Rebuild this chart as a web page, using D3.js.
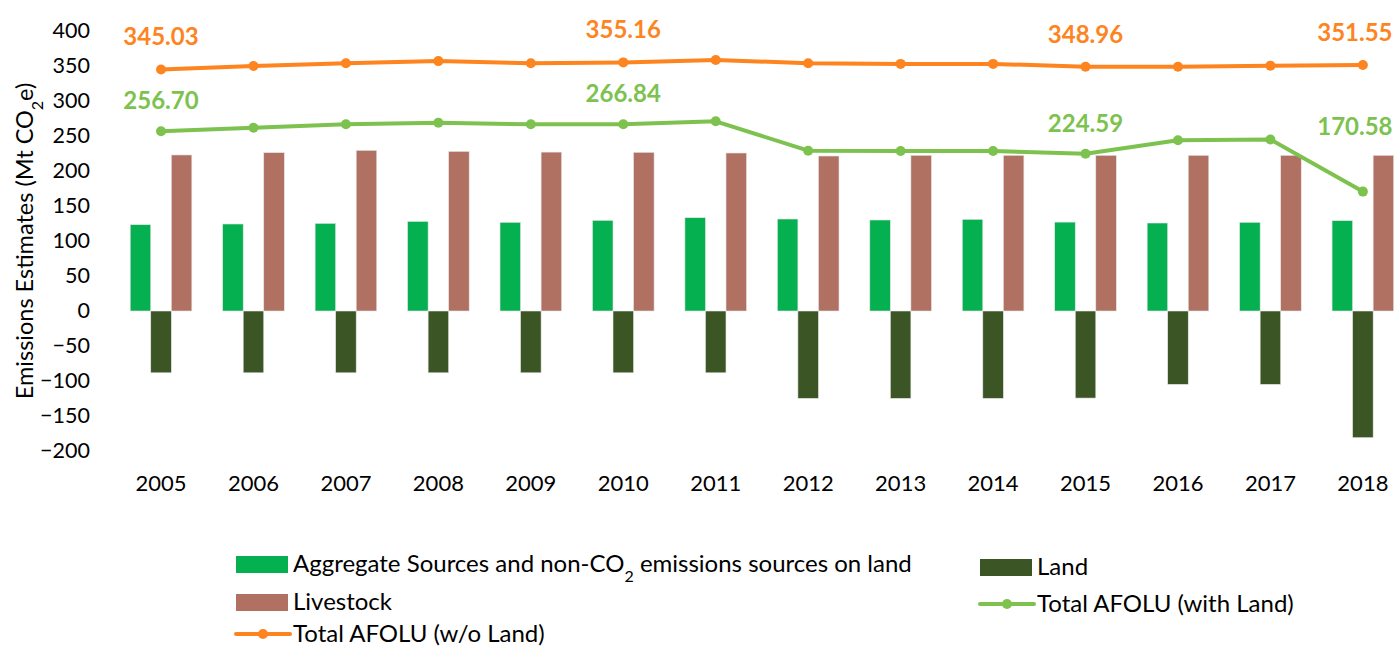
<!DOCTYPE html>
<meta charset="utf-8">
<script src="https://d3js.org/d3.v7.min.js"></script>
<style>
  body { margin: 0; background: #fff; }
  text { font-family: Lato, "Open Sans", sans-serif; }
</style>
<div id="my_dataviz"></div>
<script>
  // data
  var years = ["2005", "2006", "2007", "2008", "2009", "2010", "2011", "2012", "2013", "2014", "2015", "2016", "2017", "2018"];
  var aggregate = [123.3, 124.3, 125.2, 128.0, 126.7, 129.5, 133.3, 131.4, 130.0, 131.0, 127.0, 125.7, 126.7, 129.0];
  var land = [-88.3, -88.3, -88.3, -88.3, -88.3, -88.3, -88.3, -124.8, -124.8, -124.8, -124.4, -104.8, -104.8, -181.0];
  var livestock = [222.9, 226.2, 229.5, 228.0, 227.0, 226.7, 225.7, 221.4, 222.4, 222.4, 222.4, 222.4, 222.4, 222.4];
  var totalWithLand = [256.70, 261.9, 266.7, 269.0, 266.7, 266.84, 271.0, 229.0, 228.6, 228.6, 224.59, 244.0, 245.0, 170.58];
  var totalNoLand = [345.03, 350.0, 354.0, 357.0, 354.0, 355.16, 358.6, 354.0, 353.0, 353.0, 348.96, 349.0, 350.5, 351.55];
  var labelledYears = ["2005", "2010", "2015", "2018"];
  var yTicks = [-200, -150, -100, -50, 0, 50, 100, 150, 200, 250, 300, 350, 400];

  var barKeys = ["agg", "land", "live"];
  var colors = { agg: "#05B050", land: "#3B5524", live: "#B07062", withLand: "#7DC24F", noLand: "#FD841F" };

  var width = 1397, height = 647;

  var svg = d3.select("#my_dataviz")
    .append("svg")
    .attr("width", width)
    .attr("height", height);

  // scales
  var x = d3.scaleBand()
    .domain(years)
    .range([114.8, 1409.1])
    .paddingInner(1 / 3)
    .paddingOuter(1 / 6);

  var xSub = d3.scaleBand()
    .domain(barKeys)
    .range([0, x.bandwidth()]);

  var y = d3.scaleLinear()
    .domain([-200, 400])
    .range([451, 31]);

  // y axis (labels only)
  var yAxis = svg.append("g")
    .attr("transform", "translate(90,0)")
    .call(d3.axisLeft(y).tickValues(yTicks).tickSize(0).tickPadding(0));
  yAxis.select(".domain").remove();
  yAxis.selectAll("text")
    .style("font-family", "Lato, sans-serif")
    .style("font-size", "21.5px")
    .attr("fill", "#000");

  // x axis (labels only)
  var xAxis = svg.append("g")
    .attr("transform", "translate(0,475)")
    .call(d3.axisBottom(x).tickSize(0).tickPadding(0));
  xAxis.select(".domain").remove();
  xAxis.selectAll("text")
    .style("font-family", "Lato, sans-serif")
    .style("font-size", "22px")
    .attr("fill", "#000");

  // y title
  var yTitle = svg.append("text")
    .attr("transform", "translate(33,241) rotate(-90)")
    .attr("text-anchor", "middle")
    .style("font-size", "23.5px")
    .attr("fill", "#000");
  yTitle.append("tspan").text("Emissions Estimates (Mt CO");
  yTitle.append("tspan").attr("baseline-shift", "sub").style("font-size", "16px").text("2");
  yTitle.append("tspan").text("e)");

  // bars
  var rows = years.map(function (yr, i) {
    return { year: yr, agg: aggregate[i], land: land[i], live: livestock[i] };
  });

  var groups = svg.selectAll("g.year")
    .data(rows)
    .enter()
    .append("g")
    .attr("class", "year")
    .attr("transform", function (d) { return "translate(" + x(d.year) + ",0)"; });

  groups.selectAll("rect")
    .data(function (d) { return barKeys.map(function (k) { return { key: k, value: d[k] }; }); })
    .enter()
    .append("rect")
    .attr("x", function (d) { return xSub(d.key); })
    .attr("width", xSub.bandwidth())
    .attr("y", function (d) { return y(Math.max(0, d.value)); })
    .attr("height", function (d) { return Math.abs(y(d.value) - y(0)); })
    .attr("fill", function (d) { return colors[d.key]; })
    .attr("stroke", "#e6e6e6")
    .attr("stroke-width", 0.6);

  // lines
  var cx = function (yr) { return x(yr) + x.bandwidth() / 2; };

  function drawLine(values, color) {
    var pts = years.map(function (yr, i) { return { year: yr, v: values[i] }; });
    svg.append("path")
      .datum(pts)
      .attr("fill", "none")
      .attr("stroke", color)
      .attr("stroke-width", 4)
      .attr("stroke-linejoin", "round")
      .attr("d", d3.line().x(function (d) { return cx(d.year); }).y(function (d) { return y(d.v); }));
    svg.selectAll(null)
      .data(pts)
      .enter()
      .append("circle")
      .attr("cx", function (d) { return cx(d.year); })
      .attr("cy", function (d) { return y(d.v); })
      .attr("r", 5)
      .attr("fill", color);
    return pts;
  }

  var noLandPts = drawLine(totalNoLand, colors.noLand);
  var withLandPts = drawLine(totalWithLand, colors.withLand);

  // data labels (last year's labels nudged left so they stay inside)
  var labelOffset = { "2018": -57 };
  var labelShift = { "2018": -8 };
  function drawLabels(pts, color, defaultDy, offsets) {
    svg.selectAll(null)
      .data(pts.filter(function (d) { return labelledYears.indexOf(d.year) >= 0; }))
      .enter()
      .append("text")
      .attr("x", function (d) { return cx(d.year) + (labelShift[d.year] || 0); })
      .attr("y", function (d) { return y(d.v) + ((offsets && offsets[d.year]) || defaultDy); })
      .attr("text-anchor", "middle")
      .style("font-size", "24px")
      .style("font-weight", "bold")
      .attr("fill", color)
      .text(function (d) { return d.v.toFixed(2); });
  }
  drawLabels(noLandPts, colors.noLand, -24);
  drawLabels(withLandPts, colors.withLand, -22, labelOffset);

  // legend
  var legend = svg.append("g");
  var legendItems = [
    { key: "agg", type: "rect", x: 236, y: 564, label: ["Aggregate Sources and non-CO", "2", " emissions sources on land"] },
    { key: "land", type: "rect", x: 980, y: 567, label: ["Land"] },
    { key: "live", type: "rect", x: 236, y: 602, label: ["Livestock"] },
    { key: "withLand", type: "line", x: 980, y: 604, label: ["Total AFOLU (with Land)"] },
    { key: "noLand", type: "line", x: 236, y: 634, label: ["Total AFOLU (w/o Land)"] }
  ];
  legendItems.forEach(function (it) {
    var g = legend.append("g").attr("transform", "translate(" + it.x + "," + it.y + ")");
    if (it.type === "rect") {
      g.append("rect").attr("x", 0).attr("y", -8).attr("width", 52).attr("height", 17).attr("fill", colors[it.key]);
    } else {
      g.append("line").attr("x1", 0).attr("x2", 54).attr("y1", 0).attr("y2", 0)
        .attr("stroke", colors[it.key]).attr("stroke-width", 4).attr("stroke-linecap", "round");
      g.append("circle").attr("cx", 27).attr("cy", 0).attr("r", 5).attr("fill", colors[it.key]);
    }
    var t = g.append("text").attr("x", 57).attr("y", 0).attr("dy", "0.35em")
      .style("font-size", "24px").attr("fill", "#000");
    it.label.forEach(function (s, i) {
      if (i === 1) t.append("tspan").attr("baseline-shift", "sub").style("font-size", "16px").text(s);
      else t.append("tspan").text(s);
    });
  });
</script>
